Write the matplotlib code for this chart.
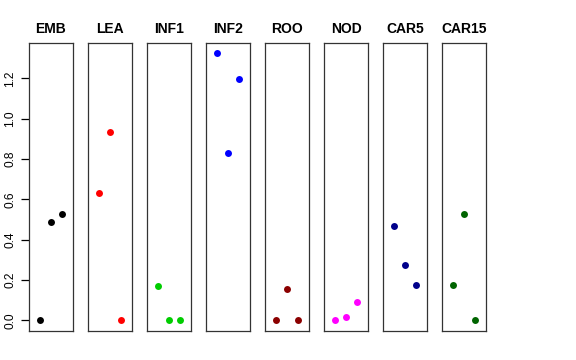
import matplotlib
matplotlib.use('Agg')
import matplotlib.pyplot as plt

plt.rcParams['font.family'] = ['Liberation Sans', 'DejaVu Sans']

# panel names, colours and values (3 points per panel)
tissues = ['EMB', 'LEA', 'INF1', 'INF2', 'ROO', 'NOD', 'CAR5', 'CAR15']
colors = ['black', 'red', '#00CD00', 'blue', '#8B0000', 'magenta', '#00008B', '#006400']
emb = [0.0, 0.487, 0.530]
lea = [0.630, 0.933, 0.0]
inf1 = [0.169, 0.0, 0.0]
inf2 = [1.325, 0.831, 1.196]
roo = [0.0, 0.154, 0.0]
nod = [0.0, 0.018, 0.093]
car5 = [0.469, 0.273, 0.174]
car15 = [0.174, 0.530, 0.0]
values = [emb, lea, inf1, inf2, roo, nod, car5, car15]
xs = [1, 2, 3]

fig = plt.figure(figsize=(5.76, 3.6), dpi=100)
W, H = 576, 360
ymin, ymax = -0.053, 1.376

for i, (name, col, vals) in enumerate(zip(tissues, colors, values)):
    left = 29 + i * 59
    ax = fig.add_axes([left / W, 1 - 331 / H, 44 / W, 288 / H])
    ax.plot(xs, vals, 'o', color=col, markersize=5, markeredgewidth=0)
    ax.set_xlim(-0.08, 4.08)
    ax.set_ylim(ymin, ymax)
    ax.set_xticks([])
    for s in ax.spines.values():
        s.set_linewidth(0.9)
        s.set_color('#333333')
    ax.set_title(name, fontsize=10, fontweight='bold', pad=7)
    if i == 0:
        ax.set_yticks([0.0, 0.2, 0.4, 0.6, 0.8, 1.0, 1.2])
        ax.set_yticklabels(['0.0', '0.2', '0.4', '0.6', '0.8', '1.0', '1.2'],
                           rotation=90, va='center', fontsize=8.6)
        ax.tick_params(axis='y', length=6, width=0.9, pad=3)
    else:
        ax.set_yticks([])

fig.savefig('out.png', dpi=100)
